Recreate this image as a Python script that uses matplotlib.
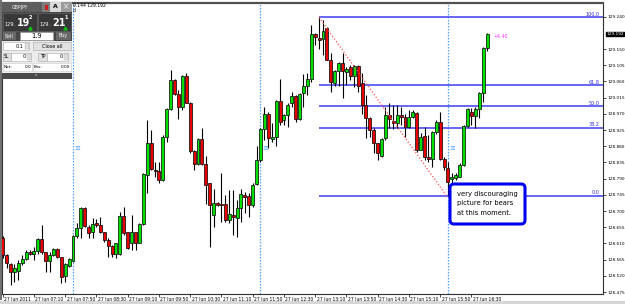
import matplotlib
matplotlib.use('Agg')
import matplotlib.pyplot as plt
from matplotlib.patches import Rectangle, FancyBboxPatch
from matplotlib.transforms import IdentityTransform
from matplotlib import font_manager

W, H = 625, 304
_names = {f.name for f in font_manager.fontManager.ttflist}
if 'Liberation Sans Narrow' in _names:
    NF, S = 'Liberation Sans Narrow', 1.0
else:
    NF, S = 'DejaVu Sans', 0.72

# ---------------- data (GBPJPY M5, 27 Jun 2011, 06:30 .. 16:50) ----------------
opens = [128.626, 128.578, 128.552, 128.530, 128.534, 128.557, 128.566, 128.587, 128.582, 128.590,
         128.622, 128.585, 128.560, 128.578, 128.594, 128.571, 128.520, 128.547, 128.561, 128.631,
         128.652, 128.708, 128.657, 128.641, 128.668, 128.661, 128.641, 128.621, 128.603, 128.582,
         128.582, 128.686, 128.641, 128.612, 128.641, 128.612, 128.663, 128.800, 128.888, 128.814,
         128.812, 128.786, 128.905, 128.984, 129.064, 129.025, 128.990, 129.076, 129.001, 128.868,
         128.831, 128.900, 128.831, 128.777, 128.689, 128.723, 128.720, 128.719, 128.675, 128.689,
         128.680, 128.708, 128.744, 128.742, 128.717, 128.775, 128.842, 128.927, 128.971, 128.899,
         128.907, 129.006, 128.953, 128.967, 128.999, 129.020, 128.955, 129.029, 129.047, 129.066,
         129.192, 129.180, 129.177, 129.208, 129.121, 129.055, 129.090, 129.112, 129.087, 129.099,
         129.075, 129.103, 129.055, 128.995, 128.958, 128.925, 128.888, 128.853, 128.902, 128.967,
         128.951, 128.944, 128.967, 128.962, 128.933, 128.960, 128.973, 128.871, 128.908, 128.851,
         128.846, 128.920, 128.948, 128.846, 128.819, 128.790, 128.793, 128.795, 128.828, 128.936,
         128.976, 128.964, 128.983, 129.029, 129.152]
highs = [128.630, 128.580, 128.555, 128.553, 128.564, 128.578, 128.592, 128.592, 128.601, 128.624,
         128.661, 128.587, 128.587, 128.596, 128.596, 128.573, 128.555, 128.569, 128.633, 128.666,
         128.712, 128.712, 128.661, 128.680, 128.677, 128.684, 128.643, 128.624, 128.606, 128.612,
         128.698, 128.712, 128.643, 128.689, 128.643, 128.666, 128.805, 128.953, 128.925, 128.837,
         128.837, 128.911, 128.985, 129.092, 129.066, 129.035, 129.078, 129.083, 129.004, 128.870,
         128.902, 128.930, 128.853, 128.779, 128.760, 128.726, 128.807, 128.745, 128.759, 128.759,
         128.731, 128.760, 128.754, 128.749, 128.777, 128.881, 128.930, 128.990, 128.976, 128.944,
         129.008, 129.066, 128.970, 128.999, 129.032, 129.022, 129.029, 129.081, 129.084, 129.217,
         129.196, 129.238, 129.231, 129.210, 129.140, 129.092, 129.115, 129.138, 129.099, 129.106,
         129.106, 129.106, 129.083, 129.022, 128.960, 128.930, 128.890, 128.902, 128.990, 128.999,
         128.995, 128.995, 128.990, 128.970, 128.981, 128.981, 128.976, 128.916, 128.934, 128.911,
         128.923, 128.953, 128.976, 128.851, 128.837, 128.805, 128.805, 128.833, 128.939, 128.985,
         128.985, 128.990, 129.032, 129.155, 129.194]
lows = [128.570, 128.541, 128.495, 128.504, 128.508, 128.550, 128.564, 128.578, 128.564, 128.582,
        128.582, 128.532, 128.532, 128.575, 128.569, 128.501, 128.504, 128.545, 128.559, 128.625,
        128.625, 128.657, 128.625, 128.625, 128.657, 128.638, 128.615, 128.573, 128.573, 128.569,
        128.578, 128.634, 128.594, 128.592, 128.592, 128.610, 128.661, 128.749, 128.814, 128.796,
        128.777, 128.784, 128.893, 128.981, 129.022, 128.955, 128.981, 128.999, 128.860, 128.814,
        128.828, 128.828, 128.721, 128.601, 128.657, 128.714, 128.671, 128.671, 128.668, 128.634,
        128.629, 128.670, 128.694, 128.683, 128.712, 128.772, 128.837, 128.897, 128.874, 128.893,
        128.881, 128.939, 128.939, 128.934, 128.990, 128.948, 128.953, 128.990, 129.022, 129.059,
        129.161, 129.150, 129.133, 129.120, 129.032, 129.047, 129.047, 129.013, 129.050, 129.064,
        129.045, 129.032, 128.971, 128.902, 128.907, 128.860, 128.842, 128.851, 128.897, 128.930,
        128.927, 128.930, 128.939, 128.907, 128.930, 128.958, 128.865, 128.870, 128.842, 128.837,
        128.823, 128.914, 128.842, 128.814, 128.743, 128.777, 128.786, 128.794, 128.825, 128.934,
        128.939, 128.932, 128.958, 129.004, 129.145]
closes = [128.578, 128.555, 128.532, 128.541, 128.557, 128.567, 128.587, 128.582, 128.590, 128.622,
          128.587, 128.560, 128.578, 128.594, 128.571, 128.518, 128.553, 128.566, 128.632, 128.652,
          128.708, 128.658, 128.640, 128.663, 128.662, 128.641, 128.621, 128.603, 128.580, 128.610,
          128.686, 128.638, 128.596, 128.641, 128.612, 128.663, 128.802, 128.888, 128.816, 128.810,
          128.786, 128.905, 128.984, 129.064, 129.025, 128.990, 129.076, 129.001, 128.868, 128.831,
          128.900, 128.831, 128.772, 128.717, 128.723, 128.717, 128.716, 128.675, 128.692, 128.683,
          128.708, 128.747, 128.738, 128.717, 128.772, 128.842, 128.927, 128.971, 128.902, 128.907,
          129.006, 128.948, 128.967, 128.995, 129.020, 128.955, 129.025, 129.047, 129.066, 129.192,
          129.183, 129.176, 129.201, 129.121, 129.059, 129.090, 129.112, 129.090, 129.096, 129.075,
          129.103, 129.047, 128.995, 128.958, 128.925, 128.888, 128.862, 128.899, 128.967, 128.955,
          128.944, 128.967, 128.962, 128.933, 128.960, 128.976, 128.870, 128.907, 128.851, 128.846,
          128.920, 128.948, 128.846, 128.823, 128.782, 128.795, 128.800, 128.828, 128.936, 128.983,
          128.964, 128.983, 129.029, 129.152, 129.192]

time_label_bars = [0, 8, 16, 24, 32, 40, 48, 56, 64, 72, 80, 88, 96, 104, 112, 120]
time_labels = ['27 Jun 2011', '27 Jun 07:10', '27 Jun 07:50', '27 Jun 08:30', '27 Jun 09:10',
               '27 Jun 09:50', '27 Jun 10:30', '27 Jun 11:10', '27 Jun 11:50', '27 Jun 12:30',
               '27 Jun 13:10', '27 Jun 13:50', '27 Jun 14:30', '27 Jun 15:10', '27 Jun 15:50',
               '27 Jun 16:30']
price_ticks = [128.475, 128.520, 128.565, 128.610, 128.655, 128.700, 128.745, 128.790, 128.835,
               128.880, 128.925, 128.970, 129.015, 129.060, 129.105, 129.150, 129.240]
current_price = 129.192
separator_bars = [18, 66, 114]          # 08:00, 12:00, 16:00
fib_levels = [0.0, 38.2, 50.0, 61.8, 100.0]
fib_high, fib_high_bar = 129.238, 81
fib_low, fib_low_bar = 128.743, 113.6
note_lines = ['very discouraging', 'picture for bears', 'at this moment.']
profit_text = '+4.40'

# ---------------- figure ----------------
fig = plt.figure(figsize=(W / 100, H / 100), dpi=100, facecolor='white')
ax = fig.add_axes([2 / W, 10 / H, 601 / W, 291 / H])
XMIN, XMAX = -0.18, 153.69
ax.set_xlim(XMIN, XMAX)
ax.set_ylim(128.4696, 129.278)
ax.set_facecolor('white')

GREEN, RED = '#00e000', '#e80000'
for i, (o, h, l, c) in enumerate(zip(opens, highs, lows, closes)):
    ax.vlines(i, l, h, color='black', lw=0.8, zorder=3)
    lo, hi = min(o, c), max(o, c)
    if hi - lo < 0.0025:
        mid = (hi + lo) / 2
        lo, hi = mid - 0.00125, mid + 0.00125
    col = GREEN if c >= o else RED
    ax.add_patch(Rectangle((i - 0.38, lo), 0.76, hi - lo, facecolor=col,
                           edgecolor='black', lw=0.5, zorder=4))

# separators
for b in separator_bars:
    ax.axvline(b, color='#4da3ff', ls=(0, (1.2, 1.2)), lw=0.9, zorder=1)
    ax.text(b + 0.35, 128.875, '\u2261', fontsize=5, color='#4da3ff',
            family='DejaVu Sans', va='center', ha='left', zorder=2)

# fibonacci
FIBC = '#5a5af2'
for lv in fib_levels:
    p = fib_low + (fib_high - fib_low) * lv / 100.0
    ax.hlines(p, fib_high_bar, XMAX, color=FIBC, lw=1.3, zorder=2)
    ax.text(XMAX - 0.9, p + 0.0015, f'{lv:.1f}', ha='right', va='bottom',
            fontsize=4.2 * S + (0 if S == 1 else 0.5), family=NF, color='#3030e0', zorder=5)
ax.plot([fib_high_bar, fib_low_bar], [fib_high, fib_low], color='#ff5050',
        ls=(0, (1, 1.6)), lw=0.9, zorder=5)

# axes styling
for sp in ax.spines.values():
    sp.set_color('#303030')
    sp.set_linewidth(0.8)
ax.spines['top'].set_linewidth(1.6)
ax.spines['top'].set_color('#505050')
YF = 3.8 * S + (0 if S == 1 else 0.3)
ax.yaxis.tick_right()
ax.set_yticks(price_ticks)
ax.set_yticklabels([f'{p:.3f}' for p in price_ticks], fontsize=YF, family=NF)
ax.tick_params(axis='y', length=2, width=0.5, pad=1.0, colors='black')
ax.set_xticks(time_label_bars)
ax.set_xticklabels([])
ax.tick_params(axis='x', length=2.5, width=0.5, colors='black')
xt = ax.get_xaxis_transform()
for b, s in zip(time_label_bars, time_labels):
    ax.text(b + 0.35, -0.018, s, transform=xt, ha='left', va='center',
            fontsize=4.0 * S + (0 if S == 1 else 0.4), family=NF, clip_on=False)

yt = ax.get_yaxis_transform()
ax.text(1.0055, current_price, f'{current_price:.3f}', transform=yt, ha='left', va='center',
        fontsize=YF, family=NF, color='white', clip_on=False,
        bbox=dict(boxstyle='square,pad=0.1', fc='black', ec='black'), zorder=6)

# ---------------- figure-level decorations (pixel coordinates) ----------------
ID = IdentityTransform()


def prect(x0, y0, x1, y1, fc, ec='none', lw=0.0, z=6):
    fig.add_artist(Rectangle((x0, H - y1), x1 - x0, y1 - y0, transform=ID,
                             facecolor=fc, edgecolor=ec, lw=lw, zorder=z))


def ptext(x, y, s, size, color='black', ha='left', weight='normal', fam=None, z=8):
    fig.text(x / W, 1 - y / H, s, fontsize=size, color=color, ha=ha, va='center',
             weight=weight, family=fam or NF, zorder=z)


prect(0, 300.5, W, H, '#d6d6d6', z=1)
prect(0, 0, 1.5, 300, '#707070', z=1)

fig.text(494 / W, 1 - 37 / H, profit_text, fontsize=4.2 * S + (0 if S == 1 else 0.4),
         color='#ff30ff', family=NF, va='center')
ptext(73, 5.5, '9.144 129.192', 4.0 * S + (0 if S == 1 else 0.4))
ptext(73, 10.5, 'd', 4.0 * S + (0 if S == 1 else 0.4))

# note box
fig.add_artist(FancyBboxPatch((450, H - 224), 75, 40, boxstyle='round,pad=0,rounding_size=4',
                              transform=ID, facecolor='white', edgecolor='#0000f0', lw=2.2, zorder=7))
for k, line in enumerate(note_lines):
    ptext(457, 194 + k * 9.3, line, 6.8 * S, z=9)

# one-click trading panel
prect(1.5, 1.5, 72, 79, '#474747')
prect(2, 2, 42, 12, '#5e5e5e')
ptext(20, 7, 'GBPJPY', 4.2 * S + 0.3, color='white', ha='center')
prect(42, 2, 50, 12, '#7d7d7d')
prect(44.5, 4.5, 47.5, 9.5, '#c82020', z=7)
prect(50, 2, 61, 12, '#d9d9d9')
ptext(55.5, 7, 'A', 5.5 * S + 0.5, color='black', ha='center', weight='bold')
prect(61, 2, 71.5, 12, '#9c9c9c')
ptext(66, 7, '\u00d7', 5.5, color='#eeeeee', ha='center', fam='DejaVu Sans')
for bx0, bx1, big, sup in [(3, 36.5, '19', '2'), (38, 71, '21', '1')]:
    prect(bx0, 13, bx1, 31, '#383838', ec='#6a6a6a', lw=0.4)
    ptext(bx0 + 1.2, 24.5, '129.', 4.6 * S + 0.3, color='white')
    ptext(bx0 + 14, 22.5, big, 9.0 * S + 0.5, color='white', weight='bold')
    ptext(bx0 + 26, 17.5, sup, 4.5 * S + 0.3, color='white', weight='bold')
    fig.add_artist(plt.Line2D([bx0 + 27.3], [H - 27.5], marker='^', ms=2.2, color='#10c010',
                              transform=ID, zorder=8))
prect(3, 32, 16, 40, '#686868')
ptext(9.5, 36, 'Sell', 4.3 * S + 0.3, color='white', ha='center')
prect(20, 32, 53, 40, 'white', ec='#999999', lw=0.4)
ptext(36.5, 36, '1.9', 6.2 * S + 0.4, ha='center')
prect(56, 32, 70.5, 40, '#686868')
ptext(63, 36, 'Buy', 4.3 * S + 0.3, color='white', ha='center')
prect(2, 41, 71.5, 72.5, '#ececec')
prect(3, 42, 29, 50, 'white', ec='#aaaaaa', lw=0.4)
ptext(23.5, 46, '0.1', 4.5 * S + 0.3, ha='right')
prect(25, 42.6, 29, 49.4, '#dedede', ec='#b0b0b0', lw=0.3)
prect(33, 42, 71, 50, '#e2e2e2', ec='#a8a8a8', lw=0.4)
ptext(52, 46, 'Close all', 4.5 * S + 0.3, ha='center')
prect(3, 53, 11, 61, '#e2e2e2', ec='#a8a8a8', lw=0.4)
ptext(7, 57, 'SL', 4.2 * S + 0.3, ha='center')
prect(11, 53, 31, 61, 'white', ec='#aaaaaa', lw=0.4)
ptext(25.5, 57, '0', 4.5 * S + 0.3, ha='right')
prect(27, 53.6, 31, 60.4, '#dedede', ec='#b0b0b0', lw=0.3)
prect(38, 53, 47, 61, '#e2e2e2', ec='#a8a8a8', lw=0.4)
ptext(42.5, 57, 'TP', 4.2 * S + 0.3, ha='center')
prect(47, 53, 68, 61, 'white', ec='#aaaaaa', lw=0.4)
ptext(62.5, 57, '0', 4.5 * S + 0.3, ha='right')
prect(64, 53.6, 68, 60.4, '#dedede', ec='#b0b0b0', lw=0.3)
prect(3, 63, 32, 71, 'white', ec='#cccccc', lw=0.4)
ptext(4, 67, 'Net:', 3.8 * S + 0.3)
ptext(31, 67, '0.0', 3.8 * S + 0.3, ha='right')
prect(33, 63, 71, 71, 'white', ec='#cccccc', lw=0.4)
ptext(34, 67, 'Pos:', 3.8 * S + 0.3)
ptext(70, 67, '0.00', 3.8 * S + 0.3, ha='right')
prect(2, 73, 71.5, 79, '#4a4a4a')
ptext(36.5, 75.5, 'v', 3.0, color='#dddddd', ha='center')

fig.savefig('out.png', dpi=100, facecolor='white')
